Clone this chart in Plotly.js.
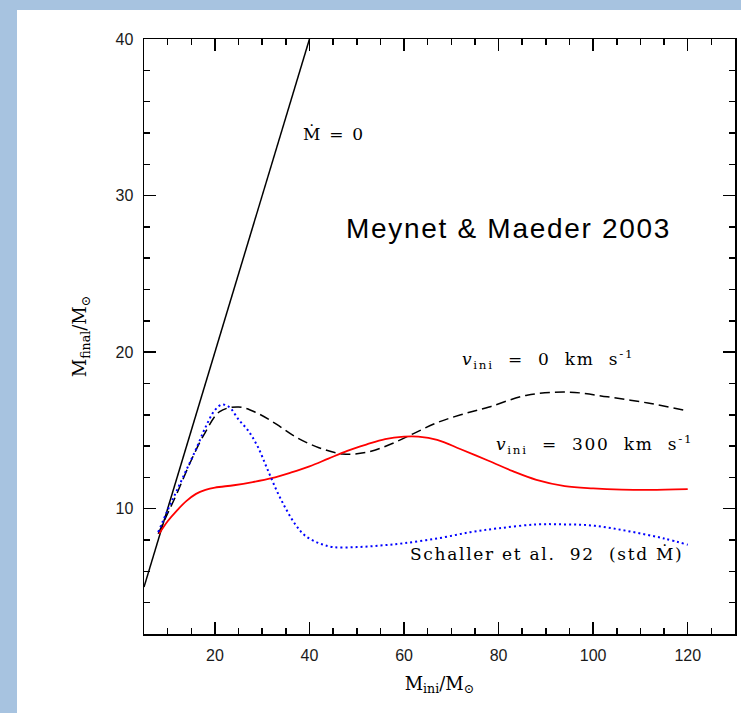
<!DOCTYPE html>
<html>
<head>
<meta charset="utf-8">
<script src="https://cdn.plot.ly/plotly-3.0.1.min.js"></script>
<style>
  html, body { margin: 0; padding: 0; width: 741px; height: 713px; background: #a7c3e0; overflow: hidden; }
  #chart { position: absolute; left: 17px; top: 10px; width: 724px; height: 703px; background: #ffffff; }
  .annotation-text { letter-spacing: 1.7px; }
</style>
</head>
<body>
<div id="chart"></div>
<script>
// No mass loss: M_final = M_ini
const noLossX = [5, 40];
const noLossY = [5, 40];

// v_ini = 0 km/s (dashed black)
const v0X = [8, 10, 12, 15, 18, 21, 25, 29, 33, 37, 42, 47, 52, 57, 62, 67, 72, 78, 86, 94.7, 103, 111.6, 120];
const v0Y = [8.4, 9.7, 11.0, 13.1, 14.9, 16.2, 16.5, 16.1, 15.4, 14.6, 13.9, 13.5, 13.6, 14.1, 14.8, 15.5, 16.0, 16.5, 17.25, 17.45, 17.15, 16.75, 16.25];

// v_ini = 300 km/s (red solid)
const v300X = [8.2, 10, 12, 14, 16, 18, 20, 24, 28, 32, 36, 40, 44, 48, 52, 56, 60, 63, 67, 72, 78, 83, 88, 94, 100, 106, 112, 120];
const v300Y = [8.4, 9.2, 9.9, 10.5, 10.95, 11.2, 11.35, 11.5, 11.7, 11.95, 12.3, 12.7, 13.2, 13.7, 14.1, 14.45, 14.6, 14.6, 14.4, 13.8, 13.05, 12.4, 11.85, 11.45, 11.3, 11.22, 11.2, 11.25];

// Schaller et al. 92 (standard mass loss, dotted blue)
const schX = [8, 10, 12, 14, 16, 18, 20, 21.5, 23, 25, 27, 29, 31, 33, 35, 37, 39, 42, 45, 50, 55, 60, 67, 74, 80, 88, 94, 99, 104, 109.5, 115, 120];
const schY = [8.5, 9.9, 11.2, 12.5, 13.8, 15.2, 16.3, 16.65, 16.5, 15.7, 15.0, 14.0, 12.6, 11.2, 10.0, 9.0, 8.3, 7.8, 7.55, 7.55, 7.65, 7.8, 8.1, 8.5, 8.75, 9.0, 9.0, 8.95, 8.75, 8.45, 8.1, 7.7];

// Axis ranges and tick steps
const xRange = [5, 130];
const yRange = [2, 40];
const xMajor = 20, xMinor = 5;
const yMajor = 10, yMinor = 2;

const serif = "'DejaVu Serif', serif";
const sans = "Arial";
const nb = "\u00a0";

const traces = [
  { x: noLossX, y: noLossY, mode: "lines", showlegend: false, line: { color: "#000000", width: 1.5 } },
  { x: v0X, y: v0Y, mode: "lines", showlegend: false, line: { color: "#000000", width: 1.5, dash: "10px,5px", shape: "spline", smoothing: 1 } },
  { x: v300X, y: v300Y, mode: "lines", showlegend: false, line: { color: "#ff0000", width: 1.8, shape: "spline", smoothing: 1 } },
  { x: schX, y: schY, mode: "lines", showlegend: false, line: { color: "#0000ff", width: 2, dash: "2px,3px", shape: "spline", smoothing: 1 } }
];

const axisCommon = {
  showline: true, linecolor: "#000000", linewidth: 1.5, mirror: "allticks",
  ticks: "inside", ticklen: 12, tickwidth: 1.5, tickcolor: "#000000",
  showgrid: false, zeroline: false,
  tickmode: "linear", tick0: 0,
  tickfont: { family: sans, size: 16, color: "#1a1a1a" }
};

const layout = {
  width: 724, height: 703,
  margin: { l: 127, r: 6, t: 29, b: 79 },
  xaxis: Object.assign({}, axisCommon, {
    range: xRange, dtick: xMajor,
    ticklabelstandoff: 6,
    minor: { dtick: xMinor, tick0: 0, ticks: "inside", ticklen: 6, tickwidth: 1.5, tickcolor: "#000000" },
    title: { text: "M<sub>ini</sub>/M<sub>\u2299</sub>", font: { family: serif, size: 18, color: "#000000" }, standoff: 14 }
  }),
  yaxis: Object.assign({}, axisCommon, {
    range: yRange, dtick: yMajor,
    ticklabelstandoff: 6,
    minor: { dtick: yMinor, tick0: 0, ticks: "inside", ticklen: 6, tickwidth: 1.5, tickcolor: "#000000" },
    title: { text: "M<sub>final</sub>/M<sub>\u2299</sub>", font: { family: serif, size: 18, color: "#000000" }, standoff: 24 }
  }),
  annotations: [
    { x: 45.1, y: 33.95, xref: "x", yref: "y", showarrow: false,
      text: "\u1E40" + nb + "=" + nb + "0", font: { family: serif, size: 17, color: "#000000" } },
    { x: 82.0, y: 27.9, xref: "x", yref: "y", showarrow: false,
      text: "Meynet &amp; Maeder 2003", font: { family: sans, size: 28, color: "#000000" } },
    { x: 90.5, y: 19.5, xref: "x", yref: "y", showarrow: false,
      text: "<i>v</i><sub>ini</sub>" + nb + nb + "=" + nb + nb + "0" + nb + nb + "km" + nb + nb + "s<sup>-1</sup>",
      font: { family: serif, size: 17, color: "#000000" } },
    { x: 100.2, y: 14.1, xref: "x", yref: "y", showarrow: false,
      text: "<i>v</i><sub>ini</sub>" + nb + nb + "=" + nb + nb + "300" + nb + nb + "km" + nb + nb + "s<sup>-1</sup>",
      font: { family: serif, size: 17, color: "#000000" } },
    { x: 90.2, y: 7.1, xref: "x", yref: "y", showarrow: false,
      text: "Schaller" + nb + "et" + nb + "al." + nb + nb + "92" + nb + nb + "(std" + nb + "\u1E40)",
      font: { family: serif, size: 17, color: "#000000" } }
  ]
};

Plotly.newPlot("chart", traces, layout, { staticPlot: true });
</script>
</body>
</html>
